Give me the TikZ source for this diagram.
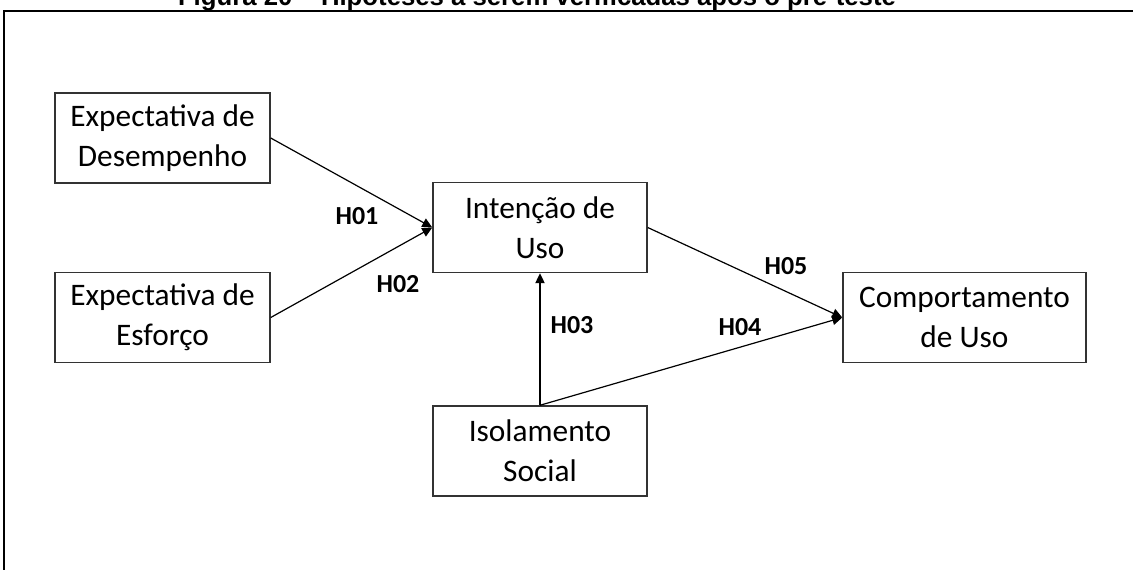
\documentclass[tikz,border=0pt]{standalone}
\usepackage{fontspec}
\setmainfont{Carlito}
\newfontfamily\titlefont{Liberation Sans}
\usetikzlibrary{arrows.meta}

\tikzset{
  construct/.style={draw=black!80, line width=1.1pt, fill=white, inner sep=0pt,
    align=center, minimum height=67.5pt,
    font=\fontsize{23.5}{30}\selectfont},
  hyp/.style={font=\bfseries\fontsize{19.5}{22}\selectfont, inner sep=0pt},
  link/.style={draw=black, line width=0.9pt,
    -{Triangle[length=7.5pt, width=7pt]}},
  frame/.style={draw=black, line width=1.6pt}
}

\begin{document}
\begin{tikzpicture}[x=0.75pt, y=-0.75pt]
  \useasboundingbox (0,0) rectangle (1133,569);

  % caption, cut by the top of the page
  \node[anchor=base, inner sep=0pt,
        font=\titlefont\bfseries\fontsize{19.3}{22}\selectfont]
        (caption) at (537,5) {Figura 20 – Hipóteses a serem verificadas após o pré-teste};

  % outer frame
  \draw[frame] (4,1200) -- (4,11) -- (1200,11);

  % constructs
  \node[construct, minimum width=161.25pt] (desemp) at (162.5,138)   {Expectativa de\\Desempenho};
  \node[construct, minimum width=161.25pt] (esforco) at (162.5,317.5) {Expectativa de\\Esforço};
  \node[construct, minimum width=160.5pt]  (intencao) at (540,227.5)  {Intenção de\\Uso};
  \node[construct, minimum width=182.25pt] (comport) at (964.5,317.5) {Comportamento\\de Uso};
  \node[construct, minimum width=160.5pt]  (isol) at (540,451)        {Isolamento\\Social};

  % hypotheses
  \draw[link] (desemp.east) -- (intencao.west);
  \draw[link] (esforco.east) -- (intencao.west);
  \draw[link] (isol.north) -- (intencao.south);
  \draw[link] (isol.north) -- (comport.west);
  \draw[link] (intencao.east) -- (comport.west);

  \node[hyp] (h01) at (357,216) {H01};
  \node[hyp] (h02) at (398,284) {H02};
  \node[hyp] (h03) at (572,325) {H03};
  \node[hyp] (h04) at (740,327) {H04};
  \node[hyp] (h05) at (786,266) {H05};
\end{tikzpicture}
\end{document}
